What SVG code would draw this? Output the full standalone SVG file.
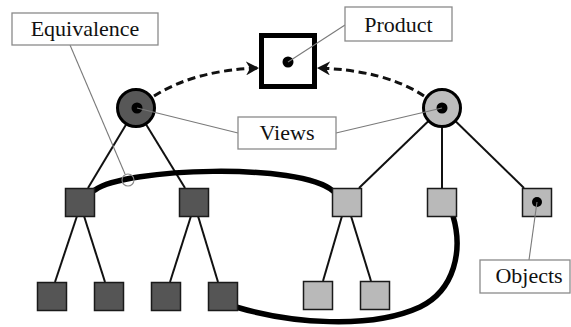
<svg xmlns="http://www.w3.org/2000/svg" width="571" height="327" viewBox="0 0 571 327">
<style>
.tree{stroke:#111;stroke-width:2;fill:none}
.dash{stroke:#111;stroke-width:3;fill:none;stroke-dasharray:8 4.5}
.equiv{stroke:#000;stroke-width:5.5;fill:none;stroke-linecap:round}
.dk{fill:#555;stroke:#1a1a1a;stroke-width:1.5}
.lt{fill:#b9b9b9;stroke:#1a1a1a;stroke-width:1.5}
.lbl{fill:#fff;stroke:#8a8a8a;stroke-width:1.3}
.lead{stroke:#7a7a7a;stroke-width:1.1;fill:none}
.t{font-family:"Liberation Serif","Times New Roman",serif;font-size:22px;fill:#111;text-anchor:middle}
</style>
<defs>
<marker id="ah" markerUnits="userSpaceOnUse" markerWidth="14" markerHeight="14" refX="13" refY="7" orient="auto">
<path d="M0,0 L13,7 L0,14 L4,7 z" fill="#111"/>
</marker>
</defs>
<rect width="571" height="327" fill="#fff"/>
<g id="connectors">
<line class="tree" x1="136" y1="108" x2="88" y2="188"/>
<line class="tree" x1="136" y1="108" x2="185" y2="188"/>
<line class="tree" x1="77" y1="216" x2="55" y2="282"/>
<line class="tree" x1="84" y1="216" x2="105" y2="282"/>
<line class="tree" x1="191" y1="216" x2="170" y2="282"/>
<line class="tree" x1="198" y1="216" x2="218" y2="282"/>
<line class="tree" x1="442" y1="108" x2="359" y2="188"/>
<line class="tree" x1="442" y1="108" x2="442" y2="188"/>
<line class="tree" x1="442" y1="108" x2="524" y2="188"/>
<line class="tree" x1="342" y1="216" x2="323" y2="281"/>
<line class="tree" x1="351" y1="216" x2="371" y2="281"/>
<path class="dash" d="M154,96 Q195,70 259,68" marker-end="url(#ah)"/>
<path class="dash" d="M424,96 Q385,70 317,68" marker-end="url(#ah)"/>
<path class="equiv" d="M95,190 C125,168 300,162 333,191"/>
<path class="equiv" d="M236,307 C290,323 370,330 420,307 C455,290 463,250 453,216"/>
</g>
<g id="product">
<rect x="261.5" y="35.5" width="53" height="51" fill="#fff" stroke="#000" stroke-width="5"/>
<circle cx="288" cy="62" r="5.5" fill="#000"/>
</g>
<g id="view-left">
<circle cx="136" cy="108" r="18.5" fill="#575757" stroke="#000" stroke-width="3"/>
<circle cx="137" cy="108" r="5.5" fill="#000"/>
</g>
<g id="view-right">
<circle cx="442" cy="108" r="18.5" fill="#bdbdbd" stroke="#000" stroke-width="3"/>
<circle cx="442" cy="108" r="5.5" fill="#000"/>
</g>
<g id="obj-l1"><rect class="dk" x="65.5" y="188.5" width="29" height="28"/></g>
<g id="obj-l2"><rect class="dk" x="179.5" y="188.5" width="29" height="28"/></g>
<g id="obj-l11"><rect class="dk" x="37.5" y="282.5" width="29" height="28"/></g>
<g id="obj-l12"><rect class="dk" x="94.5" y="282.5" width="29" height="28"/></g>
<g id="obj-l21"><rect class="dk" x="151.5" y="282.5" width="29" height="28"/></g>
<g id="obj-l22"><rect class="dk" x="208.5" y="282.5" width="29" height="28"/></g>
<g id="obj-r1"><rect class="lt" x="332.5" y="188.5" width="29" height="28"/></g>
<g id="obj-r2"><rect class="lt" x="427.5" y="188.5" width="29" height="28"/></g>
<g id="obj-r3"><rect class="lt" x="522.5" y="188.5" width="29" height="28"/><circle cx="537" cy="202" r="5" fill="#000"/></g>
<g id="obj-r11"><rect class="lt" x="303.5" y="281.5" width="29" height="28"/></g>
<g id="obj-r12"><rect class="lt" x="360.5" y="281.5" width="29" height="28"/></g>
<g id="label-equivalence">
<line class="lead" x1="70" y1="45" x2="125" y2="174"/>
<circle cx="128" cy="180" r="6" fill="none" stroke="#8a8a8a" stroke-width="1.1"/>
<rect class="lbl" x="12" y="13" width="146" height="32"/>
<text class="t" x="85" y="36">Equivalence</text>
</g>
<g id="label-product">
<line class="lead" x1="288" y1="62" x2="345" y2="25"/>
<rect class="lbl" x="345" y="7" width="107" height="34"/>
<text class="t" x="398.5" y="32">Product</text>
</g>
<g id="label-views">
<line class="lead" x1="137" y1="108" x2="238" y2="133"/>
<line class="lead" x1="336" y1="133" x2="442" y2="108"/>
<rect class="lbl" x="238" y="117" width="98" height="32"/>
<text class="t" x="287" y="140">Views</text>
</g>
<g id="label-objects">
<line class="lead" x1="537" y1="202" x2="529" y2="260"/>
<rect class="lbl" x="480" y="260" width="90" height="33"/>
<text class="t" x="529" y="283">Objects</text>
</g>
</svg>
